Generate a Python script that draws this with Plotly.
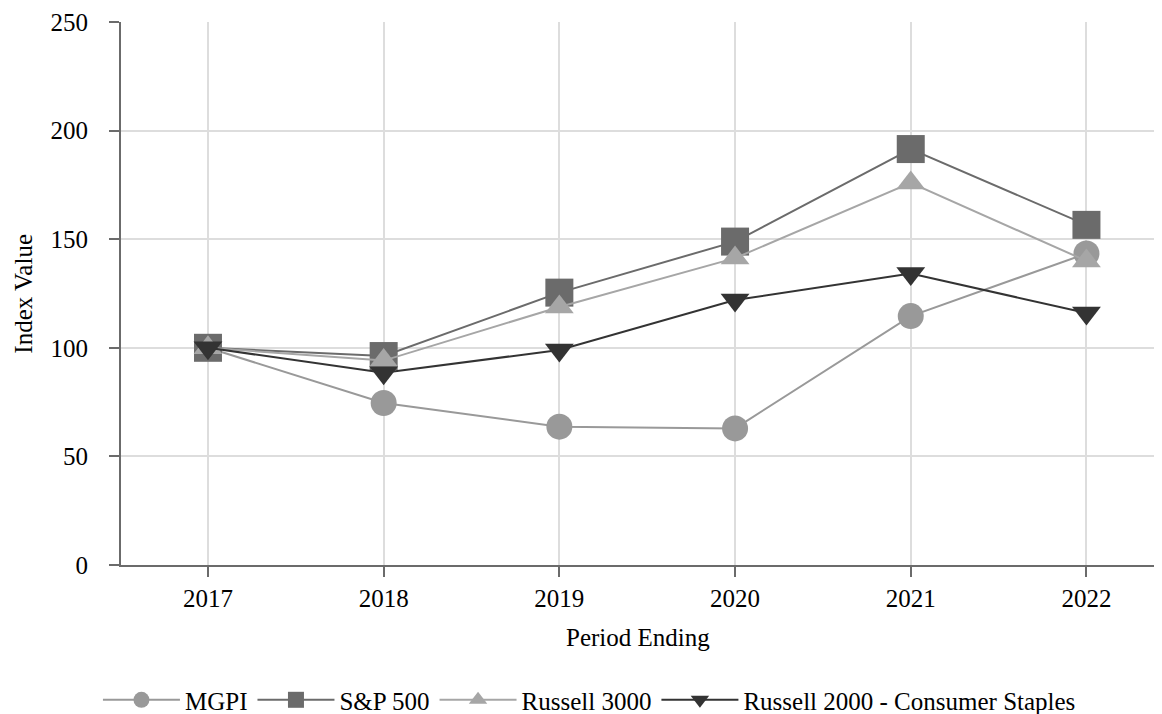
import plotly.graph_objects as go

years = [2017, 2018, 2019, 2020, 2021, 2022]
mgpi = [100, 74.6, 63.7, 62.9, 114.6, 143.4]
sp500 = [100, 96.2, 125.4, 148.9, 191.5, 156.6]
russell3000 = [100, 94.1, 118.8, 141.3, 175.9, 140.0]
russell2000_cs = [100, 88.5, 99.0, 122.0, 134.2, 116.0]
y_ticks = [0, 50, 100, 150, 200, 250]

series = [
    ("MGPI", mgpi, "#999999", "circle", 26),
    ("S&P 500", sp500, "#6b6b6b", "square", 28),
    ("Russell 3000", russell3000, "#a6a6a6", "triangle-up", 25),
    ("Russell 2000 - Consumer Staples", russell2000_cs, "#333333", "triangle-down", 25),
]

fig = go.Figure()
for name, vals, color, sym, size in series:
    fig.add_trace(go.Scatter(
        x=years, y=vals, name=name, mode="lines+markers",
        line=dict(color=color, width=2),
        marker=dict(symbol=sym, size=size, color=color, line=dict(width=0)),
    ))

FONT = "Liberation Serif, Times New Roman, serif"
font = dict(family=FONT, size=25, color="#000000")

# page body has an 8px default margin; figure sized to fit the window
fig.update_layout(
    width=1154, height=706,
    paper_bgcolor="white", plot_bgcolor="white",
    margin=dict(l=113, r=0, t=14, b=149, autoexpand=False),
    font=font,
    showlegend=True,
    legend=dict(orientation="h", x=0.45, xanchor="center", y=-0.2487, yanchor="middle",
                font=dict(family=FONT, size=25), itemwidth=77, itemsizing="trace",
                traceorder="normal", itemclick=False),
    xaxis=dict(
        range=[2016.505, 2022.43], tickvals=years, ticktext=[str(y) for y in years],
        showgrid=True, gridcolor="#dddddd", gridwidth=2,
        showline=True, linecolor="#6b6b6b", linewidth=2,
        ticks="outside", ticklen=10, tickcolor="#6b6b6b", tickwidth=2,
        ticklabelstandoff=0, automargin=False, zeroline=False,
    ),
    yaxis=dict(
        range=[0, 250], tickvals=y_ticks,
        showgrid=True, gridcolor="#dddddd", gridwidth=2,
        showline=True, linecolor="#6b6b6b", linewidth=2,
        ticks="outside", ticklen=10, tickcolor="#6b6b6b", tickwidth=2,
        ticklabelstandoff=16, automargin=False, zeroline=False,
    ),
    annotations=[
        dict(text="Period Ending", xref="paper", yref="paper", x=0.4967, y=-0.1055,
             xanchor="center", yanchor="top", showarrow=False, font=font),
        dict(text="Index Value", xref="paper", yref="paper", x=-0.094, y=0.5,
             xanchor="center", yanchor="middle", textangle=-90, showarrow=False, font=font),
    ],
)

fig.write_html("out.html")
